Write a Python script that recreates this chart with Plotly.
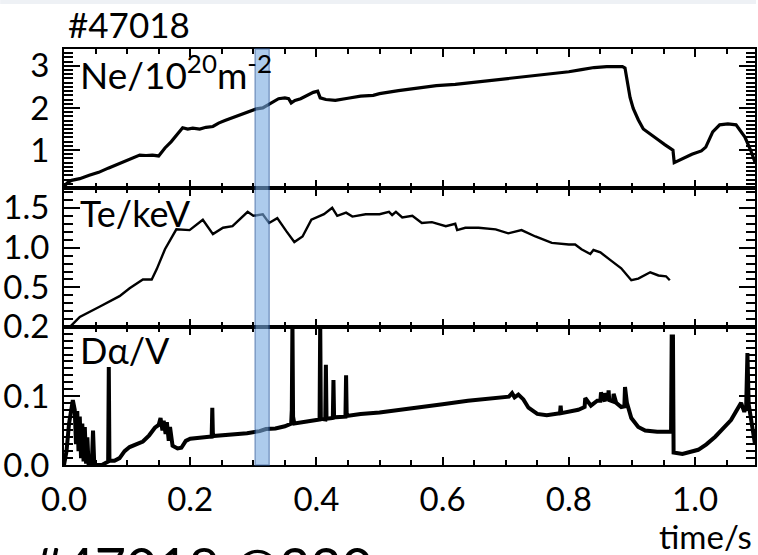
import plotly.graph_objects as go

# ---- discharge #47018 : time traces ----
ne_t = [0.000, 0.005, 0.012, 0.025, 0.040, 0.055, 0.070, 0.085, 0.100, 0.112, 0.120, 0.130,
        0.140, 0.150, 0.160, 0.170, 0.180, 0.188, 0.196, 0.204, 0.215, 0.225, 0.236, 0.245,
        0.255, 0.265, 0.275, 0.285, 0.295, 0.305, 0.315, 0.322, 0.330, 0.340, 0.350, 0.356,
        0.360, 0.366, 0.375, 0.385, 0.395, 0.402, 0.406, 0.415, 0.430, 0.450, 0.470, 0.490,
        0.500, 0.530, 0.560, 0.590, 0.620, 0.650, 0.680, 0.710, 0.740, 0.770, 0.800, 0.820,
        0.840, 0.860, 0.885, 0.889, 0.893, 0.897, 0.902, 0.910, 0.918, 0.930, 0.942, 0.952,
        0.962, 0.965, 0.967, 0.980, 0.995, 1.010, 1.017, 1.028, 1.039, 1.052, 1.065, 1.079,
        1.088, 1.095]
ne_v = [0.13, 0.22, 0.28, 0.32, 0.40, 0.47, 0.57, 0.66, 0.75, 0.84, 0.88, 0.87,
        0.88, 0.86, 1.05, 1.20, 1.38, 1.53, 1.50, 1.52, 1.50, 1.54, 1.56, 1.64,
        1.70, 1.76, 1.82, 1.87, 1.93, 1.98, 2.00, 2.06, 2.15, 2.22, 2.24, 2.22,
        2.12, 2.18, 2.22, 2.30, 2.37, 2.40, 2.24, 2.20, 2.18, 2.23, 2.28, 2.30,
        2.34, 2.41, 2.47, 2.53, 2.56, 2.61, 2.66, 2.71, 2.75, 2.80, 2.86, 2.91,
        2.96, 2.98, 2.98, 2.95, 2.60, 2.25, 1.99, 1.72, 1.50, 1.36, 1.24, 1.13,
        1.03, 1.00, 0.70, 0.80, 0.90, 0.98, 1.07, 1.43, 1.60, 1.62, 1.60, 1.31,
        1.00, 0.71]

te_t = [0.009, 0.025, 0.057, 0.088, 0.104, 0.125, 0.139, 0.147, 0.160, 0.178, 0.199, 0.220,
        0.236, 0.252, 0.267, 0.291, 0.300, 0.315, 0.325, 0.338, 0.352, 0.365, 0.378, 0.392,
        0.412, 0.425, 0.433, 0.447, 0.457, 0.478, 0.500, 0.515, 0.520, 0.526, 0.536, 0.552,
        0.567, 0.583, 0.605, 0.620, 0.623, 0.636, 0.657, 0.684, 0.704, 0.725, 0.747, 0.773,
        0.800, 0.810, 0.820, 0.834, 0.839, 0.850, 0.868, 0.883, 0.899, 0.910, 0.929, 0.942,
        0.954, 0.960]
te_v = [0.00, 0.13, 0.26, 0.39, 0.49, 0.60, 0.60, 0.73, 0.98, 1.23, 1.22, 1.35,
        1.17, 1.25, 1.27, 1.45, 1.40, 1.42, 1.31, 1.37, 1.21, 1.07, 1.14, 1.35,
        1.42, 1.50, 1.40, 1.44, 1.39, 1.42, 1.42, 1.45, 1.41, 1.45, 1.38, 1.40,
        1.31, 1.32, 1.27, 1.30, 1.22, 1.25, 1.25, 1.23, 1.18, 1.22, 1.14, 1.06,
        1.04, 1.04, 0.98, 0.92, 0.97, 0.94, 0.83, 0.74, 0.59, 0.61, 0.69, 0.65,
        0.64, 0.59]

da_t = [0.000, 0.004, 0.008, 0.012, 0.014, 0.017, 0.019, 0.021, 0.023, 0.025, 0.027, 0.029,
        0.031, 0.033, 0.035, 0.037, 0.039, 0.044, 0.046, 0.048, 0.060, 0.070, 0.071, 0.072,
        0.080, 0.088, 0.096, 0.104, 0.115, 0.125, 0.135, 0.144, 0.150, 0.153, 0.156, 0.158,
        0.161, 0.163, 0.166, 0.168, 0.172, 0.180, 0.186, 0.193, 0.200, 0.215, 0.230, 0.234,
        0.235, 0.236, 0.250, 0.270, 0.290, 0.310, 0.320, 0.335, 0.350, 0.360, 0.361, 0.362,
        0.363, 0.365, 0.380, 0.395, 0.405, 0.406, 0.407, 0.414, 0.415, 0.416, 0.426, 0.427,
        0.428, 0.446, 0.447, 0.448, 0.470, 0.500, 0.530, 0.560, 0.600, 0.640, 0.680, 0.705,
        0.710, 0.714, 0.720, 0.728, 0.736, 0.750, 0.765, 0.786, 0.787, 0.788, 0.815, 0.825,
        0.826, 0.835, 0.845, 0.850, 0.851, 0.857, 0.858, 0.862, 0.863, 0.864, 0.870, 0.871,
        0.875, 0.883, 0.888, 0.889, 0.892, 0.899, 0.910, 0.921, 0.940, 0.962, 0.963, 0.965,
        0.966, 0.980, 1.005, 1.018, 1.032, 1.045, 1.057, 1.073, 1.078, 1.081, 1.083, 1.085,
        1.090, 1.095]
da_v = [0.000, 0.020, 0.060, 0.085, 0.094, 0.080, 0.030, 0.078, 0.020, 0.070, 0.010, 0.060,
        0.005, 0.055, 0.002, 0.040, 0.000, 0.000, 0.050, 0.000, 0.000, 0.005, 0.142, 0.006,
        0.006, 0.010, 0.020, 0.026, 0.030, 0.034, 0.043, 0.054, 0.058, 0.068, 0.050, 0.064,
        0.045, 0.062, 0.035, 0.055, 0.028, 0.024, 0.025, 0.035, 0.038, 0.040, 0.041, 0.041,
        0.083, 0.042, 0.043, 0.044, 0.046, 0.049, 0.052, 0.053, 0.056, 0.060, 0.080, 0.210,
        0.070, 0.060, 0.062, 0.065, 0.066, 0.210, 0.067, 0.066, 0.145, 0.067, 0.068, 0.123,
        0.069, 0.070, 0.130, 0.071, 0.074, 0.076, 0.080, 0.084, 0.088, 0.093, 0.097, 0.099,
        0.104, 0.098, 0.102, 0.095, 0.083, 0.074, 0.072, 0.075, 0.086, 0.075, 0.080, 0.084,
        0.097, 0.086, 0.093, 0.093, 0.105, 0.092, 0.104, 0.094, 0.108, 0.094, 0.092, 0.103,
        0.090, 0.084, 0.085, 0.113, 0.090, 0.068, 0.055, 0.050, 0.048, 0.048, 0.186, 0.186,
        0.018, 0.016, 0.022, 0.030, 0.041, 0.053, 0.065, 0.090, 0.077, 0.085, 0.162, 0.088,
        0.060, 0.030]

shot_label = "#47018"
window = [0.303, 0.325]          # analysis time window (s)

W, H = 758, 555
ML, MR, MT, MB = 64, 1, 49, 90
PW, PH = W - ML - MR, H - MT - MB
FONT = "Lato, Carlito, 'DejaVu Sans', sans-serif"


def px_x(px):
    return (px - ML) / PW


def px_y(py):
    return (H - MB - py) / PH


fig = go.Figure()
fig.add_trace(go.Scatter(x=ne_t, y=ne_v, mode="lines", line=dict(color="black", width=3.2),
                         xaxis="x", yaxis="y", showlegend=False))
fig.add_trace(go.Scatter(x=te_t, y=te_v, mode="lines", line=dict(color="black", width=2.4),
                         xaxis="x2", yaxis="y2", showlegend=False))
fig.add_trace(go.Scatter(x=da_t, y=da_v, mode="lines", line=dict(color="black", width=4),
                         xaxis="x3", yaxis="y3", showlegend=False))


def x_axis(anchor, labels):
    ax = dict(anchor=anchor, range=[0, 1.095], showline=True, linecolor="black", linewidth=2,
              mirror="ticks", ticks="inside", ticklen=8, tickwidth=2, tickcolor="black",
              tick0=0, dtick=0.2, showgrid=False, zeroline=False, showticklabels=labels,
              minor=dict(dtick=0.05, ticks="inside", ticklen=5, tickwidth=1.6,
                         tickcolor="black", showgrid=False))
    if labels:
        ax.update(tickformat=".1f", ticklabelstandoff=4,
                  tickfont=dict(family=FONT, size=33, color="black"))
    return ax


def y_axis(anchor, dom, rng, dtick, mdtick, fmt):
    return dict(anchor=anchor, domain=dom, range=rng, tick0=0, dtick=dtick, tickformat=fmt,
                showline=True, linecolor="black", linewidth=2, mirror="ticks",
                ticks="inside", ticklen=16, tickwidth=2.2, tickcolor="black",
                showgrid=False, zeroline=False, ticklabelstandoff=6,
                tickfont=dict(family=FONT, size=33, color="black"),
                minor=dict(dtick=mdtick, ticks="inside", ticklen=9, tickwidth=1.8,
                           tickcolor="black", showgrid=False))


fig.update_layout(
    xaxis=x_axis("y", False),
    xaxis2=x_axis("y2", False),
    xaxis3=x_axis("y3", True),
    yaxis=y_axis("x", [0.666, 1.0], [0.1, 3.4], 1, 0.1, "d"),
    yaxis2=y_axis("x2", [0.332, 0.666], [0.004, 1.75], 0.5, 0.1, ".1f"),
    yaxis3=y_axis("x3", [0.0, 0.332], [0, 0.2], 0.1, 0.01, ".1f"),
    width=W, height=H,
    margin=dict(l=ML, r=MR, t=MT, b=MB, pad=0),
    paper_bgcolor="white", plot_bgcolor="white",
    font=dict(family=FONT, color="black"),
)

# highlighted time window across all three panels
fig.add_shape(type="rect", xref="x", yref="paper", x0=window[0], x1=window[1],
              y0=0, y1=1, fillcolor="rgb(120,170,225)", opacity=0.6,
              line=dict(color="rgb(40,90,160)", width=1.5), layer="above")

# thin strip along the top edge
fig.add_shape(type="rect", xref="paper", yref="paper", x0=px_x(0), x1=px_x(W),
              y0=px_y(4), y1=px_y(0), fillcolor="#eef1f5", line=dict(width=0), layer="below")

ann = dict(xref="paper", yref="paper", showarrow=False)
fig.add_annotation(ann, text=shot_label, x=px_x(66), y=px_y(24), xanchor="left", yanchor="middle",
                   font=dict(family=FONT, size=35, color="black"))
fig.add_annotation(ann, text="Ne/10<sup>20</sup>m<sup>-2</sup>", x=px_x(78), y=px_y(72),
                   xanchor="left", yanchor="middle", font=dict(family=FONT, size=37, color="black"))
fig.add_annotation(ann, text="Te/keV", x=px_x(78), y=px_y(213), xanchor="left", yanchor="middle",
                   font=dict(family=FONT, size=36, color="black"))
fig.add_annotation(ann, text="Dα/V", x=px_x(78), y=px_y(350), xanchor="left", yanchor="middle",
                   font=dict(family=FONT, size=36, color="black"))
fig.add_annotation(ann, text="time/s", x=px_x(756), y=px_y(536), xanchor="right", yanchor="middle",
                   font=dict(family=FONT, size=33, color="black"))
fig.add_annotation(ann, text=shot_label + " @320", x=px_x(30), y=px_y(532), xanchor="left",
                   yanchor="top", font=dict(family=FONT, size=54, color="black"))

fig.write_html("out.html")
